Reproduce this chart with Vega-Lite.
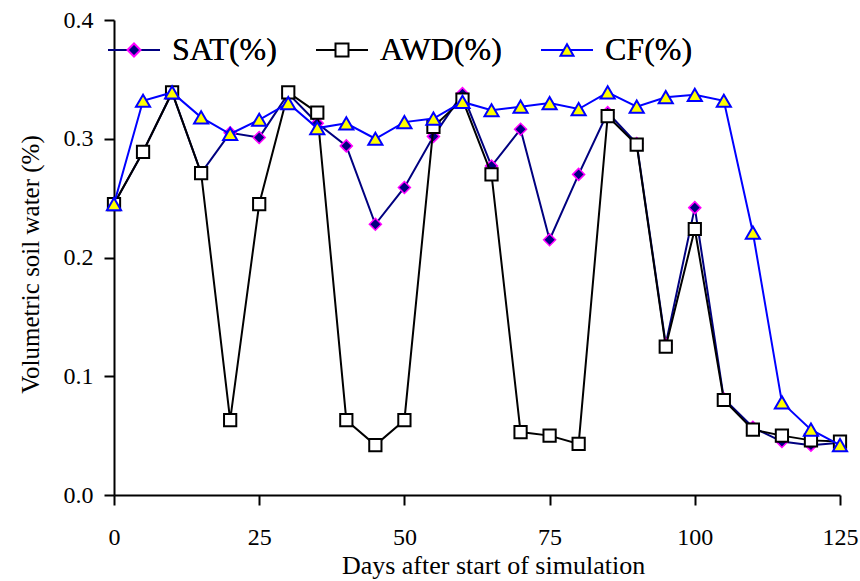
{
  "$schema": "https://vega.github.io/schema/vega-lite/v6.json",
  "width": 726,
  "height": 475,
  "autosize": {"type": "none"},
  "padding": {"left": 114, "top": 20, "right": 20, "bottom": 86},
  "background": "white",
  "config": {
    "view": {"stroke": null},
    "font": "Liberation Serif",
    "axis": {"grid": false, "domainColor": "black", "domainWidth": 2, "tickColor": "black", "tickWidth": 2, "tickSize": 10, "labelColor": "black", "labelFont": "Liberation Serif", "labelFontSize": 24, "labelFlush": false, "titleFont": "Liberation Serif", "titleFontWeight": "normal", "titleColor": "black"}
  },
  "data": {
    "values": [
      {"day": 0, "series": "SAT(%)", "value": 0.245},
      {"day": 5, "series": "SAT(%)", "value": 0.289},
      {"day": 10, "series": "SAT(%)", "value": 0.339},
      {"day": 15, "series": "SAT(%)", "value": 0.271},
      {"day": 20, "series": "SAT(%)", "value": 0.305},
      {"day": 25, "series": "SAT(%)", "value": 0.301},
      {"day": 30, "series": "SAT(%)", "value": 0.338},
      {"day": 35, "series": "SAT(%)", "value": 0.313},
      {"day": 40, "series": "SAT(%)", "value": 0.294},
      {"day": 45, "series": "SAT(%)", "value": 0.228},
      {"day": 50, "series": "SAT(%)", "value": 0.259},
      {"day": 55, "series": "SAT(%)", "value": 0.302},
      {"day": 60, "series": "SAT(%)", "value": 0.338},
      {"day": 65, "series": "SAT(%)", "value": 0.277},
      {"day": 70, "series": "SAT(%)", "value": 0.308},
      {"day": 75, "series": "SAT(%)", "value": 0.215},
      {"day": 80, "series": "SAT(%)", "value": 0.270},
      {"day": 85, "series": "SAT(%)", "value": 0.322},
      {"day": 90, "series": "SAT(%)", "value": 0.296},
      {"day": 95, "series": "SAT(%)", "value": 0.127},
      {"day": 100, "series": "SAT(%)", "value": 0.242},
      {"day": 105, "series": "SAT(%)", "value": 0.081},
      {"day": 110, "series": "SAT(%)", "value": 0.057},
      {"day": 115, "series": "SAT(%)", "value": 0.045},
      {"day": 120, "series": "SAT(%)", "value": 0.042},
      {"day": 125, "series": "SAT(%)", "value": 0.044},
      {"day": 0, "series": "AWD(%)", "value": 0.245},
      {"day": 5, "series": "AWD(%)", "value": 0.289},
      {"day": 10, "series": "AWD(%)", "value": 0.339},
      {"day": 15, "series": "AWD(%)", "value": 0.271},
      {"day": 20, "series": "AWD(%)", "value": 0.063},
      {"day": 25, "series": "AWD(%)", "value": 0.245},
      {"day": 30, "series": "AWD(%)", "value": 0.339},
      {"day": 35, "series": "AWD(%)", "value": 0.322},
      {"day": 40, "series": "AWD(%)", "value": 0.063},
      {"day": 45, "series": "AWD(%)", "value": 0.042},
      {"day": 50, "series": "AWD(%)", "value": 0.063},
      {"day": 55, "series": "AWD(%)", "value": 0.310},
      {"day": 60, "series": "AWD(%)", "value": 0.333},
      {"day": 65, "series": "AWD(%)", "value": 0.270},
      {"day": 70, "series": "AWD(%)", "value": 0.053},
      {"day": 75, "series": "AWD(%)", "value": 0.050},
      {"day": 80, "series": "AWD(%)", "value": 0.043},
      {"day": 85, "series": "AWD(%)", "value": 0.319},
      {"day": 90, "series": "AWD(%)", "value": 0.295},
      {"day": 95, "series": "AWD(%)", "value": 0.125},
      {"day": 100, "series": "AWD(%)", "value": 0.224},
      {"day": 105, "series": "AWD(%)", "value": 0.080},
      {"day": 110, "series": "AWD(%)", "value": 0.055},
      {"day": 115, "series": "AWD(%)", "value": 0.050},
      {"day": 120, "series": "AWD(%)", "value": 0.046},
      {"day": 125, "series": "AWD(%)", "value": 0.045},
      {"day": 0, "series": "CF(%)", "value": 0.245},
      {"day": 5, "series": "CF(%)", "value": 0.332},
      {"day": 10, "series": "CF(%)", "value": 0.339},
      {"day": 15, "series": "CF(%)", "value": 0.318},
      {"day": 20, "series": "CF(%)", "value": 0.304},
      {"day": 25, "series": "CF(%)", "value": 0.316},
      {"day": 30, "series": "CF(%)", "value": 0.330},
      {"day": 35, "series": "CF(%)", "value": 0.309},
      {"day": 40, "series": "CF(%)", "value": 0.313},
      {"day": 45, "series": "CF(%)", "value": 0.300},
      {"day": 50, "series": "CF(%)", "value": 0.314},
      {"day": 55, "series": "CF(%)", "value": 0.317},
      {"day": 60, "series": "CF(%)", "value": 0.331},
      {"day": 65, "series": "CF(%)", "value": 0.324},
      {"day": 70, "series": "CF(%)", "value": 0.327},
      {"day": 75, "series": "CF(%)", "value": 0.330},
      {"day": 80, "series": "CF(%)", "value": 0.325},
      {"day": 85, "series": "CF(%)", "value": 0.339},
      {"day": 90, "series": "CF(%)", "value": 0.327},
      {"day": 95, "series": "CF(%)", "value": 0.335},
      {"day": 100, "series": "CF(%)", "value": 0.337},
      {"day": 105, "series": "CF(%)", "value": 0.332},
      {"day": 110, "series": "CF(%)", "value": 0.221},
      {"day": 115, "series": "CF(%)", "value": 0.078},
      {"day": 120, "series": "CF(%)", "value": 0.055},
      {"day": 125, "series": "CF(%)", "value": 0.042}
    ]
  },
  "encoding": {
    "x": {"field": "day", "type": "quantitative", "scale": {"domain": [0, 125], "nice": false, "zero": false},
      "axis": {"values": [0, 25, 50, 75, 100, 125], "labelPadding": 20, "title": "Days after start of simulation", "titleFontSize": 26, "titleX": 379, "titleY": 78, "titleBaseline": "alphabetic", "titleAlign": "center"}},
    "y": {"field": "value", "type": "quantitative", "scale": {"domain": [0, 0.4], "nice": false},
      "axis": {"values": [0, 0.1, 0.2, 0.3, 0.4], "format": ".1f", "labelPadding": 11, "title": "Volumetric soil water (%)", "titleFontSize": 25, "titleX": -76, "titleY": 244, "titleAngle": -90, "titleBaseline": "alphabetic", "titleAlign": "center"}}
  },
  "layer": [
    {
      "transform": [{"filter": "datum.series === 'SAT(%)'"}],
      "mark": {"type": "line", "strokeWidth": 2},
      "encoding": {
        "color": {"field": "series", "type": "nominal", "scale": {"domain": ["AWD(%)", "CF(%)", "SAT(%)"], "range": ["#000000", "#0000ff", "#000080"]},
          "legend": {"values": ["SAT(%)", "AWD(%)", "CF(%)"], "orient": "none", "legendX": 4, "legendY": 14, "direction": "horizontal", "title": null, "symbolType": "M-4,0L4,0", "symbolSize": 169, "symbolStrokeWidth": 2, "labelFont": "Liberation Serif", "labelFontSize": 32, "labelColor": "black", "labelOffset": 22, "columnPadding": 35, "padding": 0, "zindex": 1}}
      }
    },
    {
      "transform": [{"filter": "datum.series === 'SAT(%)'"}],
      "mark": {"type": "point", "filled": true, "opacity": 1, "size": 144, "strokeWidth": 1.5},
      "encoding": {
        "fill": {"field": "series", "type": "nominal", "scale": {"domain": ["SAT(%)", "AWD(%)", "CF(%)"], "range": ["#000080", "#ffffff", "#ffff00"]},
          "legend": {"orient": "none", "legendX": 4, "legendY": 14, "direction": "horizontal", "title": null, "symbolSize": 169, "symbolStrokeWidth": 2, "symbolOpacity": 1, "labelFont": "Liberation Serif", "labelFontSize": 32, "labelColor": "black", "labelOffset": 22, "columnPadding": 35, "padding": 0, "zindex": 2}},
        "stroke": {"field": "series", "type": "nominal", "scale": {"domain": ["SAT(%)", "AWD(%)", "CF(%)"], "range": ["#ff00ff", "#000000", "#0000ff"]}},
        "shape": {"field": "series", "type": "nominal", "scale": {"domain": ["SAT(%)", "AWD(%)", "CF(%)"], "range": ["M-4,0M4,0M-1,0L0,-1L1,0L0,1Z", "M-4,0M4,0M-1,-1L1,-1L1,1L-1,1Z", "M-4,0M4,0M0,-0.866L-1,0.866L1,0.866Z"]}}
      }
    },
    {
      "transform": [{"filter": "datum.series === 'AWD(%)'"}],
      "mark": {"type": "line", "strokeWidth": 2},
      "encoding": {
        "color": {"field": "series", "type": "nominal", "scale": {"domain": ["AWD(%)", "CF(%)", "SAT(%)"], "range": ["#000000", "#0000ff", "#000080"]}}
      }
    },
    {
      "transform": [{"filter": "datum.series === 'AWD(%)'"}],
      "mark": {"type": "point", "filled": true, "opacity": 1, "size": 150, "strokeWidth": 2},
      "encoding": {
        "fill": {"field": "series", "type": "nominal", "scale": {"domain": ["SAT(%)", "AWD(%)", "CF(%)"], "range": ["#000080", "#ffffff", "#ffff00"]}},
        "stroke": {"field": "series", "type": "nominal", "scale": {"domain": ["SAT(%)", "AWD(%)", "CF(%)"], "range": ["#ff00ff", "#000000", "#0000ff"]}},
        "shape": {"field": "series", "type": "nominal", "scale": {"domain": ["SAT(%)", "AWD(%)", "CF(%)"], "range": ["M-4,0M4,0M-1,0L0,-1L1,0L0,1Z", "M-4,0M4,0M-1,-1L1,-1L1,1L-1,1Z", "M-4,0M4,0M0,-0.866L-1,0.866L1,0.866Z"]}}
      }
    },
    {
      "transform": [{"filter": "datum.series === 'CF(%)'"}],
      "mark": {"type": "line", "strokeWidth": 2},
      "encoding": {
        "color": {"field": "series", "type": "nominal", "scale": {"domain": ["AWD(%)", "CF(%)", "SAT(%)"], "range": ["#000000", "#0000ff", "#000080"]}}
      }
    },
    {
      "transform": [{"filter": "datum.series === 'CF(%)'"}],
      "mark": {"type": "point", "filled": true, "opacity": 1, "size": 200, "strokeWidth": 2},
      "encoding": {
        "fill": {"field": "series", "type": "nominal", "scale": {"domain": ["SAT(%)", "AWD(%)", "CF(%)"], "range": ["#000080", "#ffffff", "#ffff00"]}},
        "stroke": {"field": "series", "type": "nominal", "scale": {"domain": ["SAT(%)", "AWD(%)", "CF(%)"], "range": ["#ff00ff", "#000000", "#0000ff"]}},
        "shape": {"field": "series", "type": "nominal", "scale": {"domain": ["SAT(%)", "AWD(%)", "CF(%)"], "range": ["M-4,0M4,0M-1,0L0,-1L1,0L0,1Z", "M-4,0M4,0M-1,-1L1,-1L1,1L-1,1Z", "M-4,0M4,0M0,-0.866L-1,0.866L1,0.866Z"]}}
      }
    }
  ]
}
